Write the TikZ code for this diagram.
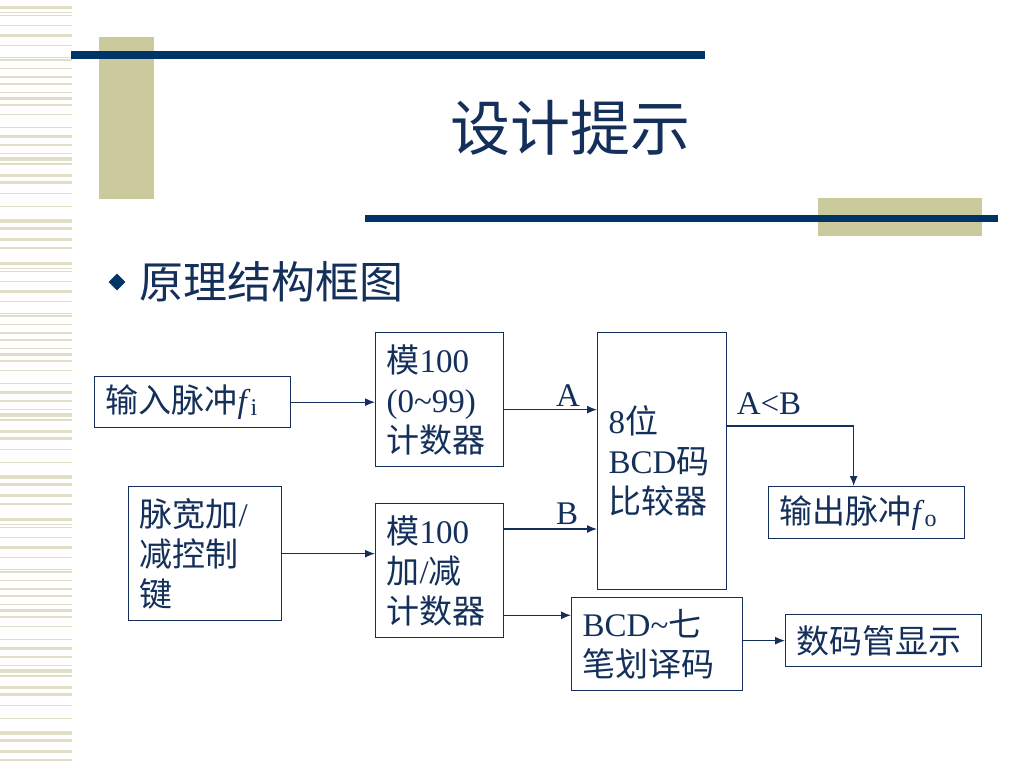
\documentclass[tikz,border=0pt]{standalone}
\usepackage{fontspec}
\setmainfont{Liberation Serif}
\newfontfamily\cjk{Noto Sans CJK SC}
\newcommand\zh[1]{{\cjk #1}}
\newcommand\sub[1]{\raisebox{-3pt}{\fontsize{24}{24}\selectfont #1}}
\usetikzlibrary{arrows.meta,shapes.geometric}
\definecolor{navy}{HTML}{003366}
\definecolor{ink}{HTML}{14305A}
\definecolor{khaki}{HTML}{CBCA9C}
\definecolor{stripe}{HTML}{E0DFC6}
\tikzset{
  blk/.style 2 args={draw=ink, line width=1.3pt, text=ink, align=left,
    anchor=north west, inner xsep=11pt, text width=#1, minimum height=#2,
    font=\fontsize{33}{40}\selectfont},
  lbl/.style={text=ink, font=\fontsize{33}{40}\selectfont},
  sig/.style={draw=ink, line width=1.3pt, -{Latex[length=10pt,width=8pt]}},
}
\begin{document}
\begin{tikzpicture}[x=1pt,y=-1pt]
  \useasboundingbox (0,0) rectangle (1024,768);
  \fill[white] (0,0) rectangle (1024,768);
  % left stripes
  \foreach \o in {0,256,512}
    \foreach \y/\h in {6/3,12/1.3,15/1.3,25/1.3,34/3.3,45/1.3,57/1.3,59/2,68/1.3,
        76/2,83/2,92/1.3,97/3.3,104/1.5,114/1.3,127/1.3,135/3,144/2,153/1.3,
        157/4,163/2,174/3.3,181/2.5,193/1.3,206/1.3,219/3.5,227/2.5,238/2.5,247/2}
      \fill[stripe] (0,\o+\y) rectangle (72,\o+\y+\h);
  % title bars
  \fill[khaki] (99,37) rectangle (154,199);
  \fill[navy] (71,51) rectangle (705,59);
  \fill[khaki] (818,198) rectangle (982,236);
  \fill[navy] (365,215) rectangle (998,222);
  \node[text=ink, font=\fontsize{60}{60}\selectfont] (title) at (570,128) {\zh{设计提示}};
  \node[diamond, fill=navy, minimum size=17pt, inner sep=0pt] (dot) at (117,282) {};
  \node[text=ink, anchor=west, font=\fontsize{44}{44}\selectfont] (head) at (136,282) {\zh{原理结构框图}};
  % blocks
  \node[blk={174pt}{51pt}] (in) at (94,376) {\zh{输入脉冲}\textit{f}\sub{i}};
  \node[blk={106pt}{134pt}] (cnt) at (375,332) {\zh{模}100\\(0\textasciitilde99)\\\zh{计数器}};
  \node[blk={131pt}{134pt}] (key) at (128,486) {\zh{脉宽加}/\\\zh{减控制}\\\zh{键}};
  \node[blk={106pt}{134pt}] (udc) at (375,503) {\zh{模}100\\\zh{加}/\zh{减}\\\zh{计数器}};
  \node[blk={107pt}{257pt}] (cmp) at (597,332) {8\zh{位}\\BCD\zh{码}\\\zh{比较器}};
  \node[blk={174pt}{52pt}] (out) at (768,486) {\zh{输出脉冲}\textit{f}\sub{o}};
  \node[blk={149pt}{93pt}] (dec) at (571,597) {BCD\textasciitilde\zh{七}\\\zh{笔划译码}};
  \node[blk={174pt}{52pt}] (disp) at (785,614) {\zh{数码管显示}};
  % signals
  \draw[sig] (in.east) -- (in.east -| cnt.west);
  \draw[sig] (key.east) -- (key.east -| udc.west);
  \draw[sig] ([yshift=-10pt]cnt.east) -- ([yshift=-10pt]cnt.east -| cmp.west);
  \draw[sig] ([yshift=-26pt]udc.north east) -- ([yshift=-26pt]udc.north east -| cmp.west);
  \draw[sig] ([yshift=23pt]udc.south east) -- ([yshift=23pt]udc.south east -| dec.west);
  \draw[sig] ([yshift=-94pt]cmp.north east) -| ([xshift=-13pt]out.north);
  \draw[sig] (disp.west -| dec.east) -- (disp.west);
  \node[lbl] (la) at (568,396) {A};
  \node[lbl] (lb) at (567,514) {B};
  \node[lbl] (lab) at (769,404) {A<B};
\end{tikzpicture}
\end{document}
